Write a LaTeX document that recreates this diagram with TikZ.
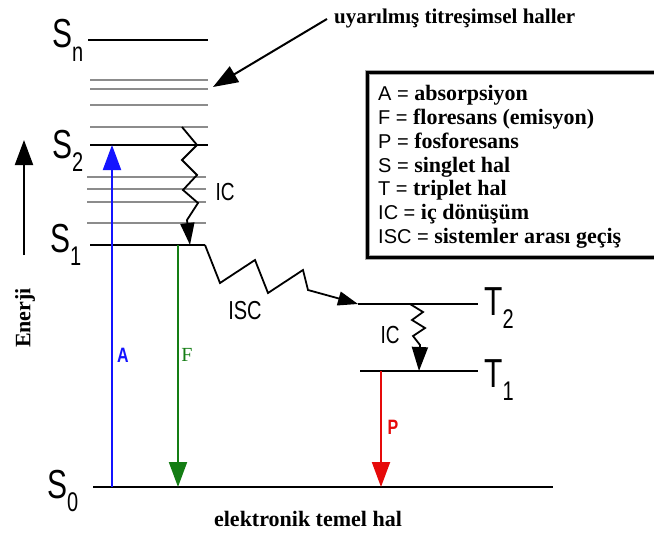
\documentclass[tikz,border=0pt]{standalone}
\usepackage{fontspec}
\setmainfont{Liberation Serif}
\newfontfamily\arialf{Liberation Sans}
\usetikzlibrary{arrows.meta}
\newcommand\biglbl[2]{\scalebox{1}[1.35]{\arialf\fontsize{30}{30}\selectfont #1\raisebox{-10pt}{\fontsize{20}{20}\selectfont #2}}}
\newcommand\smlbl[1]{\scalebox{1}[1.3]{#1}}
\newcommand\legkey[1]{{\arialf\mdseries\fontsize{20}{20}\selectfont #1 =}}
\begin{document}
\begin{tikzpicture}[x=1pt,y=-1pt,
  lvl/.style={line width=2.2pt, draw=black},
  sublvl/.style={line width=2pt, draw=black!45},
  bigtip/.style={-{Triangle[length=25pt,width=18pt]}},
  smalltip/.style={-{Triangle[length=22pt,width=14pt]}},
  zz/.style={line width=1.8pt, line join=miter, draw=black},
  leg/.style={anchor=base west, inner sep=0pt, font=\fontsize{22}{22}\selectfont\bfseries},
  capt/.style={inner sep=0pt, font=\fontsize{21}{21}\selectfont\bfseries}]
\useasboundingbox (0,0) rectangle (654,535);
\fill[white] (0,0) rectangle (654,535);

% level end points
\coordinate (SnL) at (88,40);  \coordinate (SnR) at (208,40);
\coordinate (S2L) at (90,145); \coordinate (S2R) at (208,145);
\coordinate (S1L) at (90,245); \coordinate (S1R) at (205,245);
\coordinate (S0L) at (93,487); \coordinate (S0R) at (553,487);
\coordinate (T2L) at (358,304); \coordinate (T2R) at (478,304);
\coordinate (T1L) at (360,371); \coordinate (T1R) at (478,371);

% vibrational sub-levels
\foreach \y in {80,89,105,127} \draw[sublvl] (90,\y) -- (208,\y);
\foreach \y in {177,189,202,223} \draw[sublvl] (87,\y) -- (206,\y);

% electronic levels
\draw[lvl] (SnL) -- (SnR);
\draw[lvl] (S2L) -- (S2R);
\draw[lvl] (S1L) -- (S1R);
\draw[lvl] (S0L) -- (S0R);
\draw[lvl] (T2L) -- (T2R);
\draw[lvl] (T1L) -- (T1R);

% level labels
\node[anchor=base west, inner sep=0pt] (lSn) at (52,48)  {\biglbl{S}{n}};
\node[anchor=base west, inner sep=0pt] (lS2) at (52,158) {\biglbl{S}{2}};
\node[anchor=base west, inner sep=0pt] (lS1) at (50,252) {\biglbl{S}{1}};
\node[anchor=base west, inner sep=0pt] (lS0) at (47,498) {\biglbl{S}{0}};
\node[anchor=base west, inner sep=0pt] (lT2) at (484,315) {\biglbl{T}{2}};
\node[anchor=base west, inner sep=0pt] (lT1) at (484,387) {\biglbl{T}{1}};

% energy axis
\coordinate (eBot) at (24,255); \coordinate (eTop) at (24,140);
\draw[line width=2pt, bigtip] (eBot) -- (eTop);
\node[rotate=90, inner sep=0pt, font=\fontsize{22}{22}\selectfont\bfseries] (en) at (25,318) {Enerji};

% transitions
\coordinate (Abot) at (112,487); \coordinate (Atop) at (112,145);
\draw[line width=2pt, draw={rgb,255:red,20;green,20;blue,255}, bigtip] (Abot) -- (Atop);
\node[text={rgb,255:red,20;green,20;blue,255}, inner sep=0pt, font=\arialf\fontsize{16}{16}\selectfont\bfseries] (lA) at (123,355) {\smlbl{A}};

\coordinate (Ftop) at (178,245); \coordinate (Fbot) at (178,487);
\draw[line width=2pt, draw={rgb,255:red,20;green,125;blue,20}, bigtip] (Ftop) -- (Fbot);
\node[text={rgb,255:red,20;green,125;blue,20}, inner sep=0pt, font=\fontsize{20}{20}\selectfont] (lF) at (187,355) {F};

\coordinate (Ptop) at (381,371); \coordinate (Pbot) at (381,487);
\draw[line width=2pt, draw={rgb,255:red,230;green,10;blue,10}, bigtip] (Ptop) -- (Pbot);
\node[text={rgb,255:red,230;green,10;blue,10}, inner sep=0pt, font=\arialf\fontsize{16}{16}\selectfont\bfseries] (lP) at (393,427) {\smlbl{P}};

% internal conversion S2 -> S1
\coordinate (ic1s) at (182,127); \coordinate (ic1e) at (190,245);
\draw[zz, smalltip] (ic1s) -- (197,145) -- (182,160) -- (197,175) -- (183,190) -- (198,203) -- (187,220) -- (ic1e);
\node[inner sep=0pt, font=\arialf\fontsize{19}{19}\selectfont] (lIC1) at (225,192) {\smlbl{IC}};

% intersystem crossing S1 -> T2
\draw[zz, -{Triangle[length=20pt,width=14pt]}] (S1R) -- (220,283) -- (255,260) -- (268,293) -- (303,270) -- (308,290) -- (337,298) -- (T2L);
\node[inner sep=0pt, font=\arialf\fontsize{20}{20}\selectfont] (lISC) at (245,311) {\smlbl{ISC}};

% internal conversion T2 -> T1
\coordinate (ic2s) at (410,304); \coordinate (ic2e) at (419,371);
\draw[zz, -{Triangle[length=24pt,width=16pt]}] (ic2s) -- (423,312) -- (412,320) -- (425,328) -- (413,336) -- (420,345) -- (ic2e);
\node[inner sep=0pt, font=\arialf\fontsize{19}{19}\selectfont] (lIC2) at (390,335) {\smlbl{IC}};

% annotation
\node[capt, anchor=base west] (vib) at (334,24) {uyarılmış titreşimsel haller};
\coordinate (vibTip) at (213,87);
\draw[line width=2pt, bigtip] ([xshift=-7pt]vib.west) -- (vibTip);

\node[capt, anchor=base, font=\fontsize{22}{22}\selectfont\bfseries] (gnd) at (308,526) {elektronik temel hal};

% legend
\draw[line width=5pt, draw=black!35] (367,73) rectangle (675,257);
\draw[line width=3pt, draw=black] (367,73) rectangle (675,257);
\node[leg] (g1) at (378,101.0) {\legkey{A} absorpsiyon};
\node[leg] (g2) at (378,124.7) {\legkey{F} floresans (emisyon)};
\node[leg] (g3) at (378,148.4) {\legkey{P} fosforesans};
\node[leg] (g4) at (378,172.1) {\legkey{S} singlet hal};
\node[leg] (g5) at (378,195.8) {\legkey{T} triplet hal};
\node[leg] (g6) at (378,219.5) {\legkey{IC} iç dönüşüm};
\node[leg] (g7) at (378,243.2) {\legkey{ISC} sistemler arası geçiş};
\end{tikzpicture}
\end{document}
